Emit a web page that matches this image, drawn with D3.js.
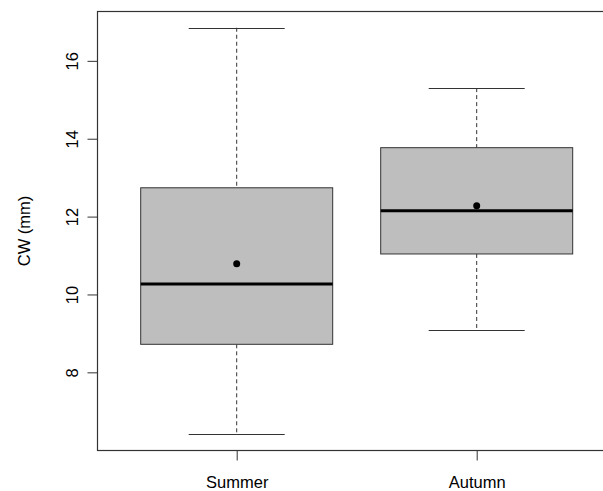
<!DOCTYPE html>
<html>
<head>
<meta charset="utf-8">
<script src="https://cdn.jsdelivr.net/npm/d3@7"></script>
<style>
  body { margin: 0; background: #fff; }
  text { font-family: "Liberation Sans", Arial, sans-serif; fill: #000; }
</style>
</head>
<body>
<div id="chart"></div>
<script>
// values
var seasons = ["Summer", "Autumn"];
var whiskLo = [6.41, 9.10];
var q1      = [8.72, 11.04];
var median  = [10.27, 12.15];
var q3      = [12.74, 13.77];
var whiskHi = [16.85, 15.30];
var means   = [10.79, 12.28];
var yTicks  = [8, 10, 12, 14, 16];

var w = 603, h = 491;
var pLeft = 97.5, pTop = 11.5, pBottom = 450.5;

var svg = d3.select("#chart").append("svg")
    .attr("width", w).attr("height", h);

// R style: xlim 0.5..n+0.5, plus 4% each side
var n = seasons.length;
var xr = [0.5 - 0.04 * n, n + 0.5 + 0.04 * n];
var unit = 240;
var x = d3.scaleLinear().domain(xr).range([pLeft, pLeft + (xr[1] - xr[0]) * unit]);

var lo = d3.min(whiskLo), hi = d3.max(whiskHi), pad = (hi - lo) * 0.04;
var y = d3.scaleLinear().domain([lo - pad, hi + pad]).range([pBottom, pTop]);

var bw = 0.8;

var data = seasons.map(function(s, i) {
    return {name: s, i: i + 1, lo: whiskLo[i], q1: q1[i], med: median[i], q3: q3[i], hi: whiskHi[i], mean: means[i]};
});

var g = svg.selectAll("g.box").data(data).enter().append("g").attr("class", "box");

// whiskers
g.append("line")
    .attr("x1", function(d) { return x(d.i); }).attr("x2", function(d) { return x(d.i); })
    .attr("y1", function(d) { return y(d.hi); }).attr("y2", function(d) { return y(d.q3); })
    .style("stroke", "#333").style("stroke-dasharray", "4,3");
g.append("line")
    .attr("x1", function(d) { return x(d.i); }).attr("x2", function(d) { return x(d.i); })
    .attr("y1", function(d) { return y(d.q1); }).attr("y2", function(d) { return y(d.lo); })
    .style("stroke", "#333").style("stroke-dasharray", "4,3");
// caps
["hi", "lo"].forEach(function(k) {
    g.append("line")
        .attr("x1", function(d) { return x(d.i - bw / 4); }).attr("x2", function(d) { return x(d.i + bw / 4); })
        .attr("y1", function(d) { return Math.round(y(d[k])) + 0.5; })
        .attr("y2", function(d) { return Math.round(y(d[k])) + 0.5; })
        .style("stroke", "#333");
});
// box
g.append("rect")
    .attr("x", function(d) { return x(d.i - bw / 2); })
    .attr("width", bw * unit)
    .attr("y", function(d) { return y(d.q3); })
    .attr("height", function(d) { return y(d.q1) - y(d.q3); })
    .style("fill", "#bebebe").style("stroke", "#333").style("stroke-width", 1);
// median
g.append("line")
    .attr("x1", function(d) { return x(d.i - bw / 2); }).attr("x2", function(d) { return x(d.i + bw / 2); })
    .attr("y1", function(d) { return y(d.med); }).attr("y2", function(d) { return y(d.med); })
    .style("stroke", "#000").style("stroke-width", 3);
// mean dot
g.append("circle")
    .attr("cx", function(d) { return x(d.i); })
    .attr("cy", function(d) { return y(d.mean); })
    .attr("r", 3.5).style("fill", "#000");

// frame
svg.append("rect")
    .attr("x", pLeft).attr("y", pTop)
    .attr("width", x.range()[1] - pLeft).attr("height", pBottom - pTop)
    .style("fill", "none").style("stroke", "#333").style("stroke-width", 1.2);

// y axis
var ya = svg.append("g").attr("transform", "translate(" + pLeft + ",0)")
    .call(d3.axisLeft(y).tickValues(yTicks).tickSize(10).tickPadding(0).tickFormat(d3.format("d")));
ya.select(".domain").remove();
ya.selectAll("line").style("stroke", "#333");
ya.selectAll("text").remove();
ya.selectAll(".tick").append("text")
    .attr("transform", "translate(-25,0) rotate(-90)")
    .attr("text-anchor", "middle")
    .style("font-size", "16.5px")
    .attr("dy", "0.35em")
    .text(function(d) { return d; });

// x axis
var xa = svg.append("g").attr("transform", "translate(0," + pBottom + ")")
    .call(d3.axisBottom(x).tickValues(data.map(function(d) { return d.i; })).tickSize(10).tickPadding(0));
xa.select(".domain").remove();
xa.selectAll("line").style("stroke", "#333");
xa.selectAll("text").remove();
xa.selectAll(".tick").append("text")
    .attr("y", 37)
    .attr("text-anchor", "middle")
    .style("font-size", "16.5px")
    .text(function(d, i) { return seasons[i]; });

svg.append("text")
    .attr("transform", "translate(30," + ((pTop + pBottom) / 2) + ") rotate(-90)")
    .attr("text-anchor", "middle")
    .style("font-size", "16.5px")
    .text("CW (mm)");
</script>
</body>
</html>
